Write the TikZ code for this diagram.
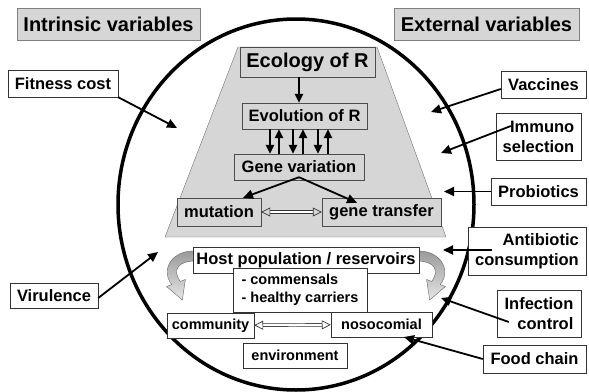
\documentclass[tikz,border=0pt]{standalone}
\usepackage{fontspec}
\setmainfont{Liberation Sans}
\usetikzlibrary{arrows.meta}
\definecolor{boxgray}{RGB}{214,214,214}
\tikzset{head node/.style={draw=black!50,fill=boxgray,inner sep=0pt,font=\fontsize{20}{24}\selectfont\bfseries},
  var node/.style={draw=black!80,fill=white,inner sep=0pt,font=\fontsize{16.5}{20}\selectfont\bfseries},
  small node/.style={draw=black!80,fill=white,inner sep=0pt,font=\fontsize{14.5}{18}\selectfont\bfseries},
  in node/.style={draw=black!70,fill=boxgray,inner sep=0pt,font=\fontsize{16.5}{20}\selectfont\bfseries},
  arr/.style={line width=1.8pt,-{Triangle[length=10pt,width=9pt]}},
  thick arr/.style={line width=2.4pt,-{Triangle[length=9pt,width=8pt]}},
  open arr/.style={draw=black!80,double=white,double distance=2pt,line width=0.7pt,{Triangle[open,length=9pt,width=9pt,line width=0.7pt]}-{Triangle[open,length=9pt,width=9pt,line width=0.7pt]}},
  bend arrow/.style={top color=gray!80,bottom color=gray!20,draw=black!60,line width=0.4pt},
}
\begin{document}
\begin{tikzpicture}[x=1pt,y=-1pt]
	\useasboundingbox (0,0) rectangle (589,391);
	% the grey trapezium and the big circle
	\filldraw[fill=boxgray,draw=black!55] (238,47) -- (377,47) -- (446,237) -- (165,237) -- cycle;
	\draw[line width=3.5pt] (296,204.5) ellipse [x radius=178,y radius=185.5];
	
	\node[head node,minimum width=183pt,minimum height=32pt] (intr) at (108.5,24) {Intrinsic variables};
	\node[head node,minimum width=185pt,minimum height=32pt] (extr) at (486.5,24) {External variables};
	
	\node[in node,minimum width=135pt,minimum height=30pt,font=\fontsize{20}{24}\selectfont\bfseries] (ecol) at (307.5,62) {Ecology of R};
	\node[in node,minimum width=125pt,minimum height=26pt] (evol) at (304.5,116) {Evolution of R};
	\node[in node,minimum width=130pt,minimum height=26pt] (genev) at (299,167) {Gene variation};
	\node[in node,minimum width=84pt,minimum height=28pt] (mut) at (219,212) {mutation};
	\node[in node,minimum width=119pt,minimum height=28pt] (gtrans) at (381.5,212) {gene transfer};
	
	% curved grey arrows round the host box
	\shadedraw[bend arrow] (195,251) .. controls (172,250) and (160,270) .. (171.8,284.6) -- (166.6,286.5) -- (182.3,300) -- (185.4,279.5) -- (180.2,281.4) .. controls (172,270) and (178,261) .. (195,261) -- cycle;
	\shadedraw[bend arrow] (417,251) .. controls (440,250) and (452,270) .. (440.2,284.6) -- (445.4,286.5) -- (429.7,300) -- (426.6,279.5) -- (431.8,281.4) .. controls (440,270) and (434,261) .. (417,261) -- cycle;
	
	\node[var node,minimum width=226pt,minimum height=26pt] (host) at (306,260) {Host population / reservoirs};
	\node[small node,minimum width=134pt,minimum height=44pt,align=left] (comm) at (300,290) {- commensals\\- healthy carriers};
	\node[small node,minimum width=87pt,minimum height=25pt] (cmty) at (210.5,325.5) {community};
	\node[small node,minimum width=101pt,minimum height=25pt] (noso) at (381.5,324.5) {nosocomial};
	\node[small node,minimum width=104pt,minimum height=25pt] (env) at (295,355.5) {environment};
	
	\node[var node,minimum width=110pt,minimum height=27pt] (fit) at (63,83.5) {Fitness cost};
	\node[var node,minimum width=88pt,minimum height=25pt] (viru) at (54,295.5) {Virulence};
	\node[var node,minimum width=85pt,minimum height=27pt] (vacc) at (543.5,84.5) {Vaccines};
	\node[var node,minimum width=85pt,minimum height=47pt,align=right] (immu) at (538.5,136.5) {Immuno\\selection};
	\node[var node,minimum width=95pt,minimum height=27pt] (probio) at (538.5,191.5) {Probiotics};
	\node[var node,minimum width=118pt,minimum height=48pt,align=right] (antib) at (527,251) {Antibiotic\\consumption};
	\node[var node,minimum width=84pt,minimum height=47pt,align=right] (infect) at (539,313.5) {Infection\\control};
	\node[var node,minimum width=103pt,minimum height=28pt] (food) at (534.5,359) {Food chain};
	
	% free ends of the arrows
	\coordinate (fit tip) at (177,128);
	\coordinate (viru tip) at (158,252);
	\coordinate (vacc tip) at (431,112);
	\coordinate (immu tip) at (441,153);
	\coordinate (probio tip) at (444,191.5);
	\coordinate (antib tip) at (443,250);
	\coordinate (infect tip) at (441,298);
	\coordinate (food tip) at (404,337);
	
	\draw[arr] (fit.south east) -- (fit tip);
	\draw[arr] ([yshift=-2.5pt]viru.east) -- (viru tip);
	\draw[arr] ([yshift=-4.5pt]vacc.west) -- (vacc tip);
	\draw[arr] ([xshift=15pt,yshift=10.5pt]immu.west) -- (immu tip);
	\draw[arr] (probio.west) -- (probio tip);
	\draw[arr] ([xshift=24pt,yshift=1pt]antib.west) -- (antib tip);
	\draw[arr] ([xshift=12pt,yshift=-8.5pt]infect.west) -- (infect tip);
	\draw[arr] (food.west) -- (food tip);
	
	\draw[thick arr] (ecol.south -| genev) -- (evol.north -| genev);
	\foreach \x in {270,293,318}{
		\coordinate (c) at (\x,0);
		\draw[thick arr] (evol.south -| c) -- (genev.north -| c);
	}
	\foreach \x in {279,303,328}{
		\coordinate (c) at (\x,0);
		\draw[thick arr] (genev.north -| c) -- (evol.south -| c);
	}
	\draw[arr] ([yshift=3pt]genev.south) -- ([xshift=24pt]mut.north);
	\draw[arr] ([yshift=3pt]genev.south) -- ([xshift=-24.5pt,yshift=-5pt]gtrans.north);
	\draw[open arr] (mut) -- (gtrans);
	\draw[open arr] (cmty) -- (noso);
\end{tikzpicture}
\end{document}
